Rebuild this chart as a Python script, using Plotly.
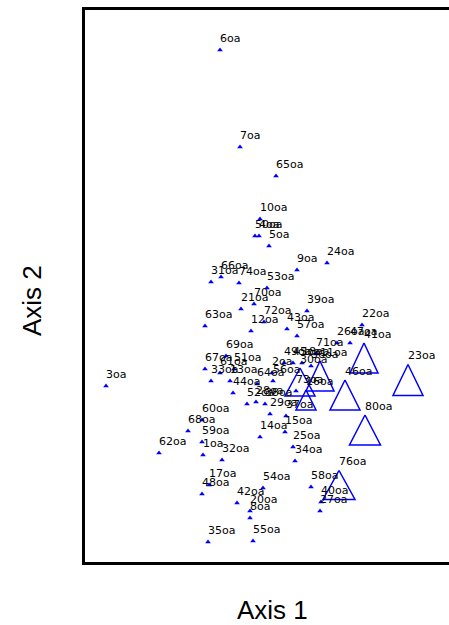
import plotly.graph_objects as go

# Ordination scores (Axis 1, Axis 2) for each sample unit
labels = [
    "6oa", "7oa", "65oa", "10oa", "50oa", "4oa", "5oa", "9oa", "24oa",
    "31oa", "66oa", "74oa", "53oa", "70oa", "21oa", "39oa", "63oa", "72oa",
    "12oa", "43oa", "57oa", "22oa", "26oa", "47oa", "71oa", "69oa", "3oa",
    "67oa", "61oa", "51oa", "33oa", "13oa", "44oa", "64oa", "52oa", "28oa",
    "38oa", "60oa", "68oa", "59oa", "62oa", "1oa", "32oa", "29oa", "14oa",
    "25oa", "34oa", "15oa", "17oa", "48oa", "54oa", "42oa", "20oa", "8oa",
    "35oa", "55oa", "58oa", "40oa", "27oa", "49oa", "45oa", "18oa", "36oa",
    "2oa", "56oa", "73oa", "37oa",
]
axis1 = [
    135, 155, 191, 175, 170, 174, 184, 212, 242,
    126, 136, 154, 182, 169, 156, 222, 120, 179,
    166, 202, 212, 277, 252, 265, 231, 141, 21,
    120, 135, 149, 126, 145, 148, 172, 162, 171,
    180, 117, 103, 117, 74, 118, 137, 185, 175,
    208, 210, 200, 124, 117, 178, 152, 165, 165,
    123, 168, 226, 236, 235, 199, 208, 217, 226,
    187, 188, 211, 201,
]
axis2 = [
    512, 415, 386, 343, 326, 326, 316, 292, 299,
    280, 285, 279, 274, 258, 253, 251, 236, 240,
    231, 233, 226, 237, 219, 219, 208, 206, 176,
    193, 189, 193, 181, 181, 169, 178, 158, 160,
    158, 142, 131, 120, 109, 107, 102, 148, 125,
    115, 101, 130, 77, 68, 74, 59, 51, 44,
    20, 21, 75, 60, 51, 199, 199, 199, 196,
    189, 181, 171, 146,
]

# Units drawn with a large symbol (width and height of the symbol, in px)
big_labels = ["41oa", "23oa", "46oa", "80oa", "76oa", "11oa", "30oa", "16oa"]
big_axis1 = [279, 323, 260, 280, 254, 235, 215, 221]
big_axis2 = [204, 182, 167, 132, 77, 186, 180, 162]
big_w = [28, 30, 30, 31, 32, 28, 30, 20]
big_h = [30, 31, 30, 30, 29, 30, 28, 20]

BLUE = "#0000FF"
fig = go.Figure()

# small filled symbols
fig.add_trace(go.Scatter(
    x=axis1, y=axis2, mode="markers",
    marker=dict(symbol="triangle-up", size=5, color=BLUE, line=dict(width=0)),
    hoverinfo="text", text=labels, showlegend=False,
))

# large open triangles
tx, ty = [], []
for cx, cy, w, h in zip(big_axis1, big_axis2, big_w, big_h):
    tx += [cx, cx - w / 2, cx + w / 2, cx, None]
    ty += [cy + h / 2, cy - h / 2, cy - h / 2, cy + h / 2, None]
fig.add_trace(go.Scatter(
    x=tx, y=ty, mode="lines", line=dict(color=BLUE, width=1.5),
    hoverinfo="skip", showlegend=False,
))

LABEL_FONT = dict(family="DejaVu Sans", size=11, color="black")
for lab, x, y in zip(labels, axis1, axis2):
    fig.add_annotation(x=x, y=y, text=lab, showarrow=False, xanchor="left",
                       yanchor="bottom", xshift=-2, yshift=3, font=LABEL_FONT)
for lab, x, y, h in zip(big_labels, big_axis1, big_axis2, big_h):
    fig.add_annotation(x=x, y=y, text=lab, showarrow=False, xanchor="left",
                       yanchor="bottom", xshift=-2, yshift=h / 2 + 0.5, font=LABEL_FONT)

TITLE_FONT = dict(family="Liberation Sans, Arial", size=26, color="black")

fig.update_layout(
    width=449, height=625,
    margin=dict(l=85, r=0, t=10, b=63),
    paper_bgcolor="white", plot_bgcolor="white",
    xaxis=dict(range=[0, 364], showgrid=False, zeroline=False, showticklabels=False,
               ticks="", showline=True, linewidth=3, linecolor="black", mirror=True,
               fixedrange=True),
    yaxis=dict(range=[0, 552], showgrid=False, zeroline=False, showticklabels=False,
               ticks="", showline=True, linewidth=3, linecolor="black", mirror=False,
               fixedrange=True),
)

# axis titles, positioned in paper coordinates relative to the plot frame
fig.add_annotation(x=(272 - 85) / 364, y=(562 - 610) / 552, xref="paper", yref="paper",
                   text="Axis 1", showarrow=False, borderpad=0,
                   xanchor="center", yanchor="middle", font=TITLE_FONT)
fig.add_annotation(x=(32 - 85) / 364, y=(562 - 300) / 552, xref="paper", yref="paper",
                   text="Axis 2", textangle=-90, showarrow=False, borderpad=0,
                   xanchor="center", yanchor="middle", font=TITLE_FONT)

fig.write_html("out.html")
